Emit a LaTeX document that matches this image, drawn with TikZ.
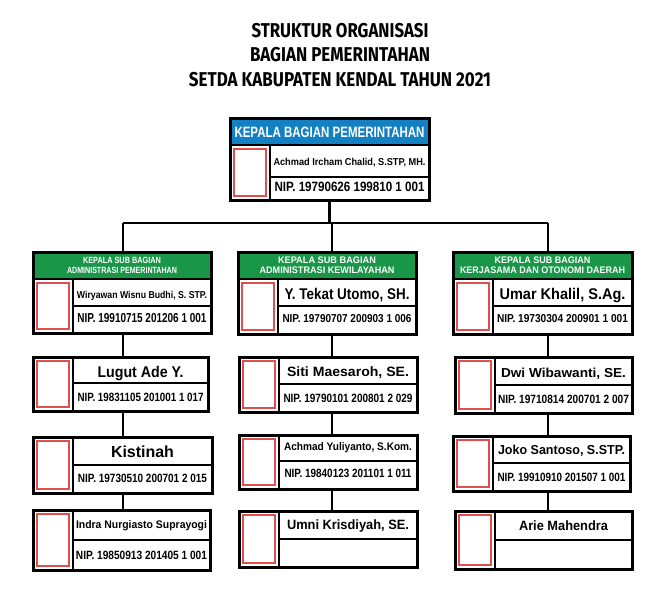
\documentclass[tikz,border=0pt]{standalone}
\usepackage{fontspec}
\usepackage{graphicx}
\setmainfont{Liberation Sans}
\newfontfamily\titlefont{Fira Sans}
\usetikzlibrary{calc}
\definecolor{hdrblue}{RGB}{20,128,196}
\definecolor{hdrgreen}{RGB}{26,150,72}
\definecolor{photored}{RGB}{222,80,80}

\newcommand\ft[3]{\resizebox{#2pt}{\height}{\fontsize{#1}{#1}\selectfont #3}}

% [header colour]{id}{x1}{y1}{x2}{y2}{y of header bottom}{y of name/nip split}
\newcommand\card[8][white]{%
 \pgfmathsetmacro\cw{#5-#3}%
 \pgfmathsetmacro\chh{#6-#4}%
 \pgfmathsetmacro\px{#3+40}%
 \fill[#1] (#3,#4) rectangle (#5,#7);%
 \node[cardframe,minimum width=\cw pt,minimum height=\chh pt,anchor=north west] (#2) at (#3,#4) {};%
 \draw[divline] (#3,#7) -- (#5,#7);%
 \draw[divline] (\px,#7) -- (\px,#6);%
 \draw[divline] (\px,#8) -- (#5,#8);%
 \draw[photoframe] (#3+4,#7+4) rectangle (\px-4,#6-4);%
 \coordinate (#2-head) at ({(#3+#5)/2},{(#4+#7)/2});%
 \coordinate (#2-name) at ({(\px+#5)/2},{(#7+#8)/2});%
 \coordinate (#2-nip) at ({(\px+#5)/2},{(#8+#6)/2});%
}
% [colour]{node name}{coordinate}{dy}{size}{width}{text}
\newcommand\tx[7][black]{%
 \node[txt,text=#1] (#2) at ($(#3)+(0,{#4+0.358*#5})$) {\ft{#5}{#6}{#7}};%
}

\begin{document}
\begin{tikzpicture}[x=1pt,y=-1pt,
 cardframe/.style={draw=black,line width=3pt,inner sep=0pt,outer sep=0pt},
 divline/.style={draw=black,line width=2.5pt},
 photoframe/.style={draw=photored,line width=1.2pt},
 conn/.style={draw=black,line width=2.5pt},
 txt/.style={inner sep=0pt,outer sep=0pt,font=\bfseries,anchor=base}]
\useasboundingbox[fill=white] (0,0) rectangle (668,600);

% title
\coordinate (title) at (340,30.5);
\tx{t1}{title}{0}{20}{177}{\titlefont STRUKTUR ORGANISASI}
\tx{t2}{title}{24}{20}{180}{\titlefont BAGIAN PEMERINTAHAN}
\tx{t3}{title}{48.5}{20}{302}{\titlefont SETDA KABUPATEN KENDAL TAHUN 2021}

% cards
\card[hdrblue]{top}{230}{118}{429}{200}{145}{177}
\card[hdrgreen]{l1}{33}{252}{211}{333}{279}{306}
\card[hdrgreen]{m1}{238}{252}{416}{334}{279}{306}
\card[hdrgreen]{r1}{453}{252}{632}{334}{279}{306}
\card{l2}{33}{357}{208}{411}{357}{383}
\card{m2}{239}{357}{417}{412}{357}{384}
\card{r2}{455}{357}{632}{413}{357}{385}
\card{l3}{33}{437}{212}{493}{437}{465}
\card{m3}{239}{435}{417}{489}{435}{461}
\card{r3}{453}{436}{630}{491}{436}{463}
\card{l4}{33}{510}{210}{570}{510}{540}
\card{m4}{239}{511}{417}{567}{511}{539}
\card{r4}{455}{511}{632}{569}{511}{540}

% connectors
\coordinate (jL) at (123,223);
\coordinate (jM) at (332,223);
\coordinate (jR) at (548,223);
\draw[conn] (top.south) -- (top.south |- jM);
\draw[conn] (jL) -- (jR);
\draw[conn] (jL) -- (jL |- l1.north);
\draw[conn] (jM) -- (jM |- m1.north);
\draw[conn] (jR) -- (jR |- r1.north);
\draw[conn] (l1.south -| jL) -- (l2.north -| jL);
\draw[conn] (l2.south -| jL) -- (l3.north -| jL);
\draw[conn] (l3.south -| jL) -- (l4.north -| jL);
\draw[conn] (m1.south -| jM) -- (m2.north -| jM);
\draw[conn] (m2.south -| jM) -- (m3.north -| jM);
\draw[conn] (m3.south -| jM) -- (m4.north -| jM);
\draw[conn] (r1.south -| jR) -- (r2.north -| jR);
\draw[conn] (r2.south -| jR) -- (r3.north -| jR);
\draw[conn] (r3.south -| jR) -- (r4.north -| jR);

% texts: top
\tx[white]{topH}{top-head}{1}{15}{190}{KEPALA BAGIAN PEMERINTAHAN}
\tx{topN}{top-name}{0.5}{10}{152}{Achmad Ircham Chalid, S.STP, MH.}
\tx{topP}{top-nip}{-1.5}{13.5}{150}{NIP. 19790626 199810 1 001}

% row 2
\tx[white]{l1H1}{l1-head}{-5.5}{9}{78}{KEPALA SUB BAGIAN}
\tx[white]{l1H2}{l1-head}{5}{9}{110}{ADMINISTRASI PEMERINTAHAN}
\tx{l1N}{l1-name}{2}{10}{130}{Wiryawan Wisnu Budhi, S. STP.}
\tx{l1P}{l1-nip}{-2}{13}{129}{NIP. 19910715 201206 1 001}

\tx[white]{m1H1}{m1-head}{-5.5}{9.5}{98}{KEPALA SUB BAGIAN}
\tx[white]{m1H2}{m1-head}{5}{9.5}{135}{ADMINISTRASI KEWILAYAHAN}
\tx{m1N}{m1-name}{1.5}{15.5}{125}{Y. Tekat Utomo, SH.}
\tx{m1P}{m1-nip}{-1.5}{11.5}{129}{NIP. 19790707 200903 1 006}

\tx[white]{r1H1}{r1-head}{-5.5}{9.5}{96}{KEPALA SUB BAGIAN}
\tx[white]{r1H2}{r1-head}{5}{9.5}{165}{KERJASAMA DAN OTONOMI DAERAH}
\tx{r1N}{r1-name}{1.5}{15.5}{126}{Umar Khalil, S.Ag.}
\tx{r1P}{r1-nip}{-1.5}{11.5}{131}{NIP. 19730304 200901 1 001}

% row 3
\tx{l2N}{l2-name}{1.5}{15.5}{86}{Lugut Ade Y.}
\tx{l2P}{l2-nip}{0}{12}{126}{NIP. 19831105 201001 1 017}
\tx{m2N}{m2-name}{1.5}{13.5}{122}{Siti Maesaroh, SE.}
\tx{m2P}{m2-nip}{0}{12}{129}{NIP. 19790101 200801 2 029}
\tx{r2N}{r2-name}{1.5}{13}{125}{Dwi Wibawanti, SE.}
\tx{r2P}{r2-nip}{0}{12}{131}{NIP. 19710814 200701 2 007}

% row 4
\tx{l3N}{l3-name}{1}{16}{63}{Kistinah}
\tx{l3P}{l3-nip}{-1}{12}{129}{NIP. 19730510 200701 2 015}
\tx{m3N}{m3-name}{-1}{11}{128}{Achmad Yuliyanto, S.Kom.}
\tx{m3P}{m3-nip}{-1.5}{12}{127}{NIP. 19840123 201101 1 011}
\tx{r3N}{r3-name}{0.5}{13}{127}{Joko Santoso, S.STP.}
\tx{r3P}{r3-nip}{0}{12}{128}{NIP. 19910910 201507 1 001}

% row 5
\tx{l4N}{l4-name}{0}{11}{131}{Indra Nurgiasto Suprayogi}
\tx{l4P}{l4-nip}{0}{12}{131}{NIP. 19850913 201405 1 001}
\tx{m4N}{m4-name}{0}{13.5}{122}{Umni Krisdiyah, SE.}
\tx{r4N}{r4-name}{0}{13.5}{89}{Arie Mahendra}
\end{tikzpicture}
\end{document}
